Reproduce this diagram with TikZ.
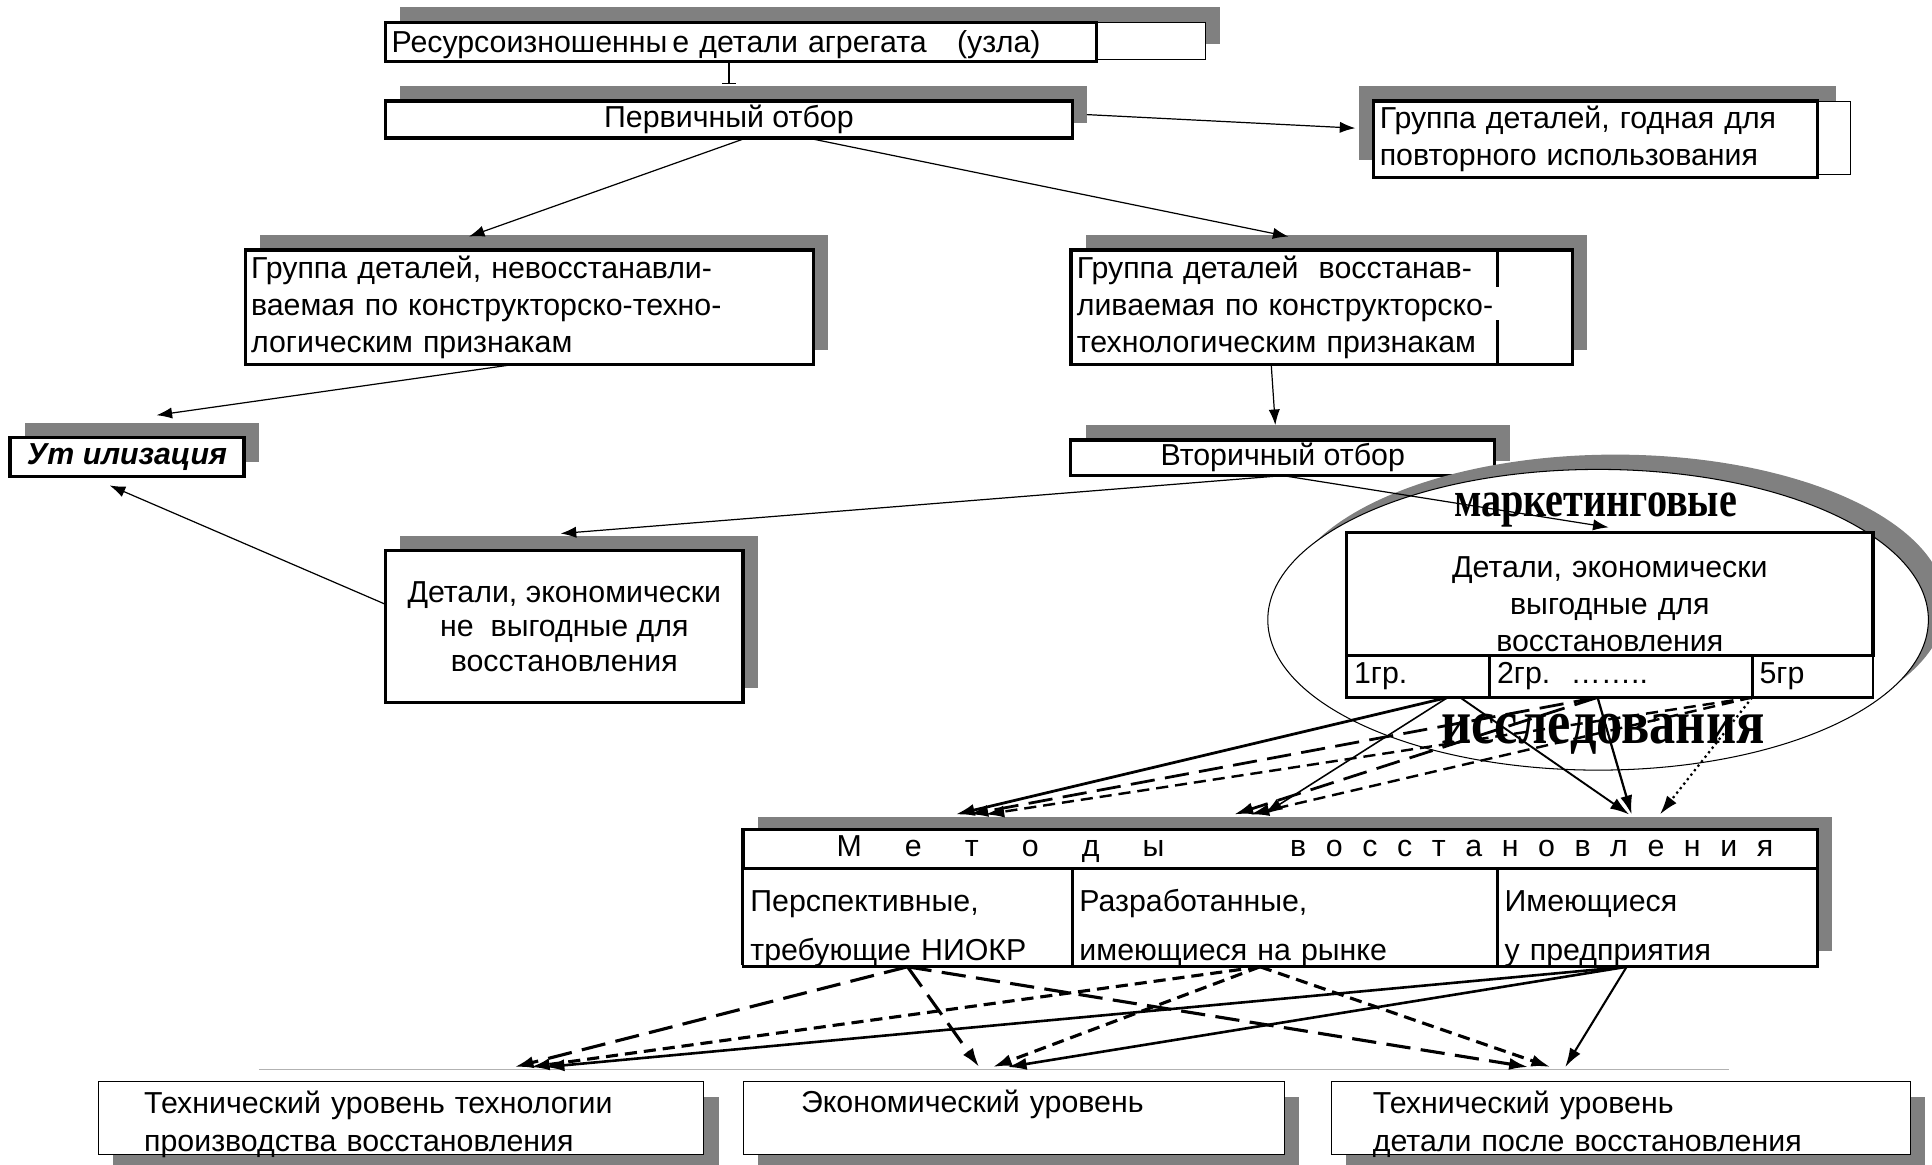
\documentclass[tikz,border=0pt]{standalone}
\usepackage{fontspec}
\setmainfont{Liberation Sans}
\newfontfamily\wafont{Liberation Serif}
\usepackage{tikz}
\usetikzlibrary{shapes.geometric, arrows.meta, positioning, calc, shadows}
\definecolor{shadegray}{RGB}{128,128,128}

\begin{document}
\begin{tikzpicture}[
    x=0.025cm, y=-0.025cm,
    font=\fontsize{17.5}{21.5}\selectfont,
    >={Latex[length=9pt,width=6.5pt]},
    box/.style={rectangle, draw, line width=1.9pt, fill=white, inner xsep=0.12cm, inner ysep=0pt, outer sep=0pt, anchor=north west},
    lbox/.style={box, align=left},
    thinframe/.style={rectangle, draw, line width=0.6pt, fill=white, inner sep=0pt, outer sep=0pt, anchor=north west},
    cell/.style={box, line width=1.7pt, align=left, inner xsep=0.15cm},
    outbox/.style={rectangle, draw, line width=0.6pt, fill=white, inner ysep=0pt, outer sep=0pt, align=left, anchor=north west, minimum height=1.475cm},
    shup/.style={drop shadow={shadow xshift=0.3cm, shadow yshift=0.3cm, fill=shadegray, opacity=1}},
    shul/.style={drop shadow={shadow xshift=-0.3cm, shadow yshift=0.3cm, fill=shadegray, opacity=1}},
    shdn/.style={drop shadow={shadow xshift=0.3cm, shadow yshift=-0.3cm, fill=shadegray, opacity=1}},
    arrow/.style={->, line width=0.7pt},
    bundle/.style={-{Latex[length=11pt,width=7pt]}},
    longdash/.style={dash pattern=on 14pt off 6pt},
    shortdash/.style={dash pattern=on 7pt off 4pt},
    wordart/.style={inner sep=0pt}
]
    \useasboundingbox (0,0) rectangle (1568,945);

    % Selection stages
    \node[thinframe, shup, minimum width=16.625cm, minimum height=0.75cm] (resfr) at (313,18) {};
    \node[lbox, minimum width=14.425cm, minimum height=0.8cm, text width=14.185cm, text height=16pt] (res) at (313,18) {Ресурсоизношенны\,е детали агрегата\ \ \ (узла)};
    \node[box, shup, minimum width=13.925cm, minimum height=0.75cm, below=0.8cm of res.south west, anchor=north west] (prim) {Первичный отбор};

    \node[thinframe, shul, minimum width=9.675cm, minimum height=1.5cm] (reusefr) at (1115,82) {};
    \node[lbox, minimum width=9cm, minimum height=1.55cm, text width=8.76cm] (reuse) at (1115,82) {Группа деталей, годная для\\повторного использования};

    \node[lbox, shup, minimum width=11.525cm, minimum height=2.325cm, text width=11.285cm] (nonrec) at (199,203) {Группа деталей, невосстанавли-\\ваемая по конструкторско-техно-\\логическим признакам};
    \node[lbox, shup, minimum width=10.175cm, minimum height=2.325cm, text width=9.935cm, right=5.225cm of nonrec] (rec) {Группа деталей\ \ восстанав-\\ливаемая по конструкторско-\\технологическим признакам};
    \draw[line width=1.9pt] ($(rec.north west)+(346,0)$) -- ++(0,30) ($(rec.south west)+(346,0)$) -- ++(0,-36);

    \node[box, shup, minimum width=4.75cm, minimum height=0.8cm, font=\fontsize{17.5}{21}\selectfont\bfseries\itshape] (util) at (8,355) {Ут илизация};
    \node[box, shup, minimum width=8.6cm, minimum height=0.725cm] (sec) at (869,357) {Вторичный отбор};
    \node[box, shup, align=center, minimum width=7.25cm, minimum height=3.075cm, font=\fontsize{17.5}{20}\selectfont] (nonprof) at (313,447) {Детали, экономически\\не\ \ выгодные для\\восстановления};

    % Marketing research
    \node[ellipse, draw, line width=0.6pt, fill=white, minimum width=13.4cm, minimum height=6.1cm, drop shadow={shadow xshift=0.35cm, shadow yshift=0.3cm, fill=shadegray, opacity=1}] (mkt) at (1297,503) {};
    \node[box, align=center, minimum width=10.675cm, minimum height=2.5cm, text width=10.435cm, text height=24pt] (prof) at (1093,432) {Детали, экономически\\выгодные для\\восстановления};
    \node[cell, minimum width=2.9cm, minimum height=0.85cm, text width=2.6cm, below=0pt of prof.south west, anchor=north west] (g1) {1гр.};
    \node[cell, minimum width=5.325cm, minimum height=0.85cm, text width=5.025cm, right=0pt of g1] (g2) {2гр.\ \ ……..};
    \node[cell, minimum width=2.45cm, minimum height=0.85cm, text width=2.15cm, right=0pt of g2] (g5) {5гр};

    % Methods
    \node[box, drop shadow={shadow xshift=0.3cm, shadow yshift=0.25cm, fill=shadegray, opacity=1}, minimum width=21.8cm, minimum height=2.725cm] (meth) at (603,673) {};
    \node[box, align=left, minimum width=21.8cm, minimum height=0.8cm, text width=21.3cm, inner xsep=0.25cm] (mtit) at (603,673) {\hspace*{1.65cm}\makebox[6.65cm]{М\hfill е\hfill т\hfill о\hfill д\hfill ы}\hspace{2.55cm}\makebox[9.8cm]{в\hfill о\hfill с\hfill с\hfill т\hfill а\hfill н\hfill о\hfill в\hfill л\hfill е\hfill н\hfill и\hfill я}};
    \node[cell, minimum width=6.675cm, minimum height=1.925cm, text width=6.375cm, text height=25pt, font=\fontsize{17.5}{28}\selectfont, below=0pt of mtit.south west, anchor=north west] (mA) {Перспективные,\\требующие НИОКР};
    \node[cell, minimum width=8.625cm, minimum height=1.925cm, text width=8.325cm, text height=25pt, font=\fontsize{17.5}{28}\selectfont, right=0pt of mA] (mB) {Разработанные,\\имеющиеся на рынке};
    \node[cell, minimum width=6.5cm, minimum height=1.925cm, text width=6.2cm, text height=25pt, font=\fontsize{17.5}{28}\selectfont, right=0pt of mB] (mC) {Имеющиеся\\у предприятия};

    % Levels
    \draw[gray!60, line width=0.9pt] (210,868) -- (1403,868);
    \node[outbox, shdn, minimum width=12.275cm, text width=10.425cm, inner xsep=0.925cm, text depth=18pt] (outL) at (80,878) {Технический уровень технологии\\производства восстановления};
    \node[outbox, shdn, minimum width=10.975cm, text width=8.625cm, inner xsep=1.175cm, text depth=20pt, right=0.8cm of outL] (outM) {Экономический уровень};
    \node[outbox, shdn, minimum width=11.75cm, text width=10.05cm, inner xsep=0.85cm, text depth=18pt, right=0.95cm of outM] (outR) {Технический уровень\\детали после восстановления};

    % Arrows
    \draw[-{Bar[width=8pt]}, line width=0.7pt] (res.south -| prim.north) -- ($(prim.north)+(0,-14)$);
    \draw[arrow] ($(prim.east)+(12,-4)$) -- ($(reuse.west)+(-15,-9)$);
    \draw[arrow] ($(prim.south)+(14,0)$) -- ($(nonrec.north)+(-49,-11)$);
    \draw[arrow] ($(prim.south)+(64,0)$) -- ($(rec.north)+(-27,-11)$);
    \draw[arrow] ($(nonrec.south)+(-14,0)$) -- ($(util.north)+(24,-18)$);
    \draw[arrow] ($(rec.south)+(-41,0)$) -- ($(sec.north)+(-6,-12)$);
    \draw[arrow] (sec.south) -- ($(nonprof.north)+(-3,-14)$);
    \draw[arrow] (sec.south) -- ($(prof.north)+(-1,-4)$);
    \draw[arrow] ($(nonprof.west)+(0,-18)$) -- ($(util.south)+(-14,7)$);

    % groups to methods
    \draw[bundle, line width=1.6pt] ($(g1.south)+(24,0)$) -- ($(mA.north)+(39,-44)$);
    \draw[bundle, line width=0.9pt] ($(g1.south)+(24,0)$) -- ($(mB.north)+(-17,-44)$);
    \draw[bundle, line width=1.1pt] ($(g1.south)+(34,0)$) -- ($(mC.north)+(-23,-44)$);
    \draw[bundle, longdash, line width=1.6pt] ($(g2.south)+(-19,0)$) -- ($(mA.north)+(50,-44)$);
    \draw[bundle, longdash, line width=1.6pt] ($(g2.south)+(-19,0)$) -- ($(mB.north)+(-41,-44)$);
    \draw[bundle, line width=1.3pt] ($(g2.south)+(-19,0)$) -- ($(mC.north)+(-21,-44)$);
    \draw[bundle, shortdash, line width=1.4pt] (g5.south west) -- ($(mA.north)+(63,-44)$);
    \draw[bundle, shortdash, line width=1.4pt] (g5.south west) -- ($(mB.north)+(-28,-44)$);
    \draw[bundle, dotted, line width=1.3pt] (g5.south west) -- ($(mC.north)+(2,-44)$);

    % methods to levels
    \draw[bundle, longdash, line width=1.8pt] (mA.south) -- ($(outL.north)+(92,-12)$);
    \draw[bundle, longdash, line width=1.8pt] (mA.south) -- ($(outM.north)+(-28,-12)$);
    \draw[bundle, longdash, line width=1.8pt] (mA.south) -- ($(outR.north)+(-75,-12)$);
    \draw[bundle, shortdash, line width=1.8pt] ($(mB.south)+(-20,0)$) -- ($(outL.north)+(105,-12)$);
    \draw[bundle, shortdash, line width=1.8pt] ($(mB.south)+(-20,0)$) -- ($(outM.north)+(-17,-12)$);
    \draw[bundle, shortdash, line width=1.8pt] ($(mB.south)+(-20,0)$) -- ($(outR.north)+(-57,-12)$);
    \draw[bundle, line width=1.5pt] ($(mC.south)+(-25,0)$) -- ($(outL.north)+(117,-12)$);
    \draw[bundle, line width=1.5pt] ($(mC.south)+(-25,0)$) -- ($(outM.north)+(-5,-12)$);
    \draw[bundle, line width=1.2pt] ($(mC.south)+(-25,0)$) -- ($(outR.north)+(-45,-12)$);

    % WordArt captions
    \node[wordart, font=\wafont\bfseries\fontsize{29}{29}\selectfont] (mkttxt) at (1295,414) {\scalebox{0.8}[1]{маркетинговые}};
    \node[wordart, font=\wafont\bfseries\fontsize{36}{36}\selectfont] (restxt) at (1301,596) {\scalebox{0.84}[1]{исследования}};
\end{tikzpicture}
\end{document}
